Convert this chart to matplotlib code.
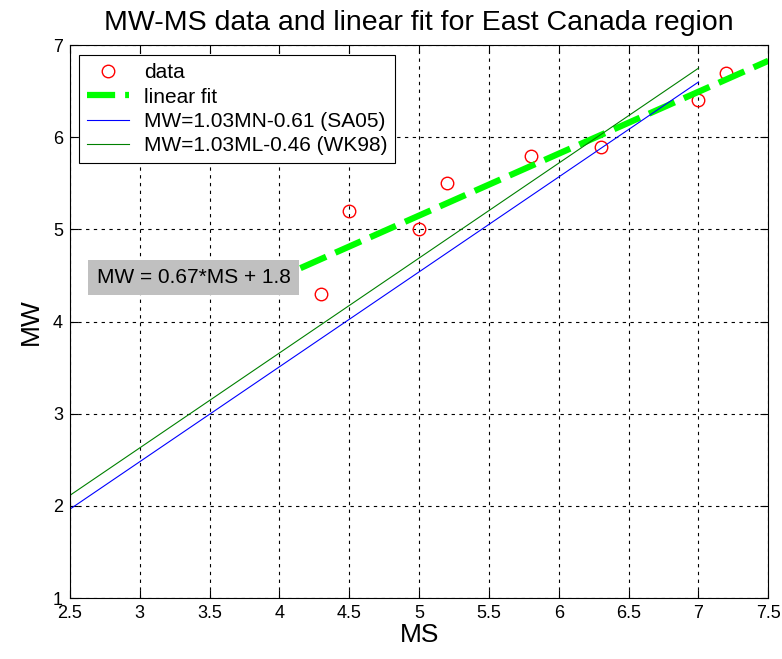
import matplotlib
matplotlib.use('Agg')
import matplotlib.pyplot as plt

plt.rcParams['font.family'] = ['Liberation Sans', 'DejaVu Sans']

# observed MS / MW pairs
ms_data = [4.3, 4.5, 5.0, 5.2, 5.8, 6.3, 7.0, 7.2]
mw_data = [4.3, 5.2, 5.0, 5.5, 5.8, 5.9, 6.4, 6.7]

# line endpoints
fit_x = [4.15, 7.5]
fit_y = [4.58, 6.83]
sa05_x = [2.5, 7.0]
sa05_y = [1.965, 6.60]
wk98_x = [2.5, 7.0]
wk98_y = [2.115, 6.75]

xticks = [2.5, 3, 3.5, 4, 4.5, 5, 5.5, 6, 6.5, 7, 7.5]
xticklabels = ['2.5', '3', '3.5', '4', '4.5', '5', '5.5', '6', '6.5', '7', '7.5']
yticks = [1, 2, 3, 4, 5, 6, 7]

fig = plt.figure(figsize=(7.82, 6.59), dpi=100)
ax = fig.add_axes([0.0895, 0.0925, 0.893, 0.839])

ax.plot(ms_data, mw_data, 'o', mfc='none', mec='red', ms=9, mew=1, label='data')
ax.plot(fit_x, fit_y, '--', color='#00ff00', lw=4.5, dashes=(4.5, 1.6), label='linear fit')
ax.plot(sa05_x, sa05_y, '-', color='blue', lw=0.8, label='MW=1.03MN-0.61 (SA05)')
ax.plot(wk98_x, wk98_y, '-', color='green', lw=0.8, label='MW=1.03ML-0.46 (WK98)')

ax.set_xlim(2.5, 7.5)
ax.set_ylim(1, 7)
ax.set_xticks(xticks)
ax.set_xticklabels(xticklabels)
ax.set_yticks(yticks)
ax.tick_params(direction='in', length=6, labelsize=13, top=True, right=True, pad=5)
ax.grid(True, color='black', ls=(0, (3, 4)), lw=0.8)
for s in ax.spines.values():
    s.set_linewidth(0.8)

ax.set_xlabel('MS', fontsize=19, labelpad=1)
ax.set_ylabel('MW', fontsize=19, labelpad=7)
ax.set_title('MW-MS data and linear fit for East Canada region', fontsize=20.5, pad=11)

ax.text(4.08, 4.48, 'MW = 0.67*MS + 1.8', fontsize=15, ha='right', va='center',
        bbox=dict(boxstyle='square,pad=0.4', fc='#c0c0c0', ec='none'))

leg = ax.legend(loc='upper left', bbox_to_anchor=(0.013, 0.982), borderaxespad=0,
                fontsize=15, frameon=True, fancybox=False, edgecolor='black',
                framealpha=1, handlelength=2.0, handletextpad=0.7,
                borderpad=0.4, labelspacing=0.25)
leg.get_frame().set_linewidth(0.8)

fig.savefig('out.png', dpi=100)
